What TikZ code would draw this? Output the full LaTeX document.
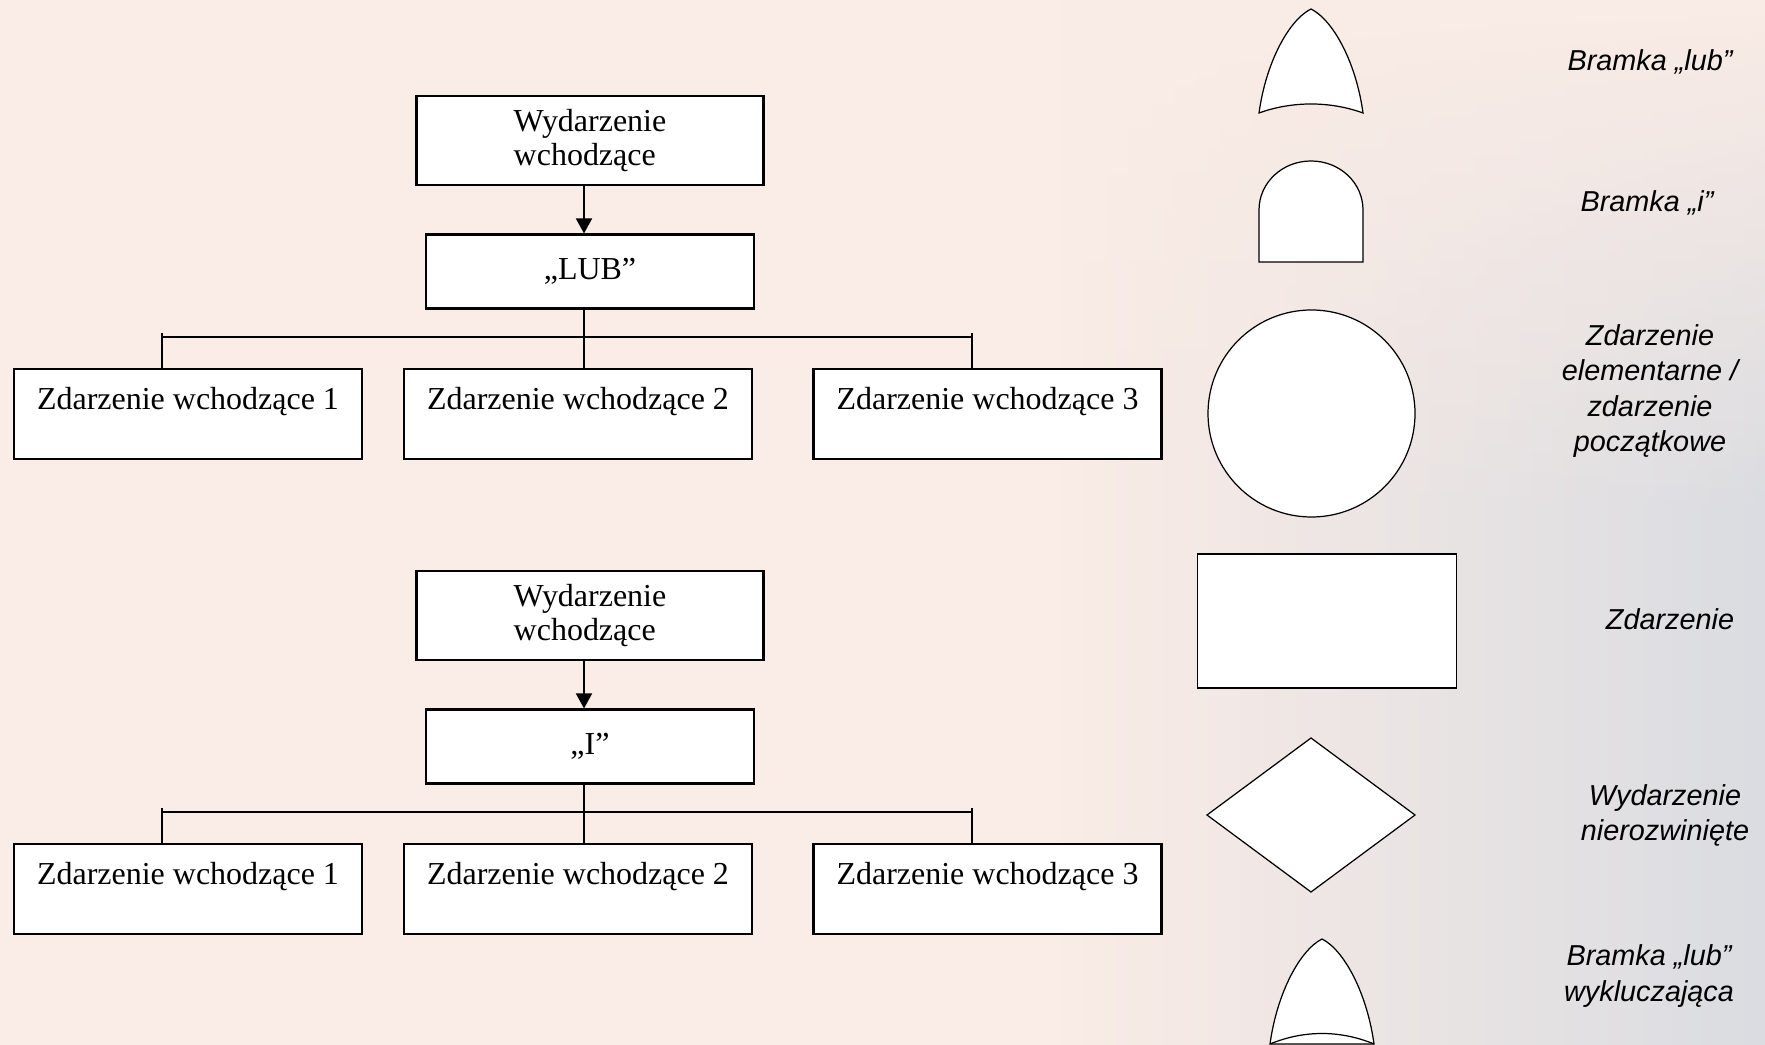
\documentclass[tikz,border=0pt]{standalone}
\usepackage{fontspec}
\setmainfont{Liberation Serif}
\newfontfamily\legendfont{Liberation Sans}
\usetikzlibrary{arrows.meta,fadings}
\definecolor{bgpink}{RGB}{250,236,230}
\definecolor{bggray}{RGB}{218,220,225}

\begin{document}
\begin{tikzpicture}[x=0.1mm,y=-0.1mm]

    \tikzset{boxfont/.style={font=\fontsize{9.1}{9.7}\selectfont},
      topbox/.style={draw,fill=white,line width=0.6pt,boxfont,align=left,minimum width=34.7mm,minimum height=8.9mm,inner sep=0pt},
      gatebox/.style={draw,fill=white,line width=0.6pt,boxfont,minimum width=32.8mm,minimum height=7.4mm,inner sep=0pt},
      leafbox/.style={draw,fill=white,line width=0.6pt,boxfont,minimum width=34.8mm,text height=4.05mm,text depth=4.95mm,inner sep=0pt,anchor=base},
      legend/.style={font=\legendfont\itshape\fontsize{8.2}{10}\selectfont,align=center},
      symbol/.style={draw,fill=white,line width=0.35pt}}

    \useasboundingbox (0,0) rectangle (1765,1045);
    \fill[bgpink] (0,0) rectangle (1765,1045);
    \shade[left color=bgpink,right color=bggray] (1050,0) rectangle (1765,1045);
    \fill[bgpink,path fading=south] (1050,0) rectangle (1765,520);

    % gate "LUB"
    \node[topbox] (w1) at (590,140.3) {Wydarzenie\\wchodzące};
    \node[gatebox] (g1) at (590,271.5) {,,LUB”};
    \node[leafbox] (z11) at (188,409.5) {Zdarzenie wchodzące 1};
    \node[leafbox] (z12) at (578,409.5) {Zdarzenie wchodzące 2};
    \node[leafbox] (z13) at (987.5,409.5) {Zdarzenie wchodzące 3};
    \coordinate (a1) at (162,337);
    \coordinate (b1) at (584,337);
    \coordinate (c1) at (972,337);

    % gate "I"
    \node[topbox] (w2) at (590,615.3) {Wydarzenie\\wchodzące};
    \node[gatebox] (g2) at (590,746.5) {,,I”};
    \node[leafbox] (z21) at (188,884.5) {Zdarzenie wchodzące 1};
    \node[leafbox] (z22) at (578,884.5) {Zdarzenie wchodzące 2};
    \node[leafbox] (z23) at (987.5,884.5) {Zdarzenie wchodzące 3};
    \coordinate (a2) at (162,812);
    \coordinate (b2) at (584,812);
    \coordinate (c2) at (972,812);

    \begin{scope}[every path/.style={line width=0.45pt}]
        \draw[-{Triangle[length=1.5mm,width=1.6mm]},line width=0.5pt] (b1 |- w1.south) -- (b1 |- g1.north);
        \draw (b1 |- g1.south) -- (b1 |- z12.north);
        \draw (a1) -- (c1);
        \draw ([yshift=0.4mm]a1) -- (a1 |- z11.north);
        \draw ([yshift=0.4mm]c1) -- (c1 |- z13.north);

        \draw[-{Triangle[length=1.5mm,width=1.6mm]},line width=0.5pt] (b2 |- w2.south) -- (b2 |- g2.north);
        \draw (b2 |- g2.south) -- (b2 |- z22.north);
        \draw (a2) -- (c2);
        \draw ([yshift=0.4mm]a2) -- (a2 |- z21.north);
        \draw ([yshift=0.4mm]c2) -- (c2 |- z23.north);
    \end{scope}

    % legend
    \draw[symbol] (1259,113) .. controls (1266,62) and (1289,20) .. (1311,9)
        .. controls (1333,20) and (1356,62) .. (1363,113)
        .. controls (1330,101) and (1292,101) .. cycle;
    \draw[symbol] (1259,262) -- (1259,210) .. controls (1259,183) and (1282,161) .. (1311,161)
        .. controls (1340,161) and (1363,183) .. (1363,210) -- (1363,262) -- cycle;
    \draw[symbol] (1311.5,413.5) circle[radius=10.35mm];
    \draw[symbol] (1197.5,554) rectangle (1456.5,688);
    \draw[symbol] (1207,815) -- (1311,738) -- (1415,815) -- (1311,892) -- cycle;
    \draw[symbol] (1270,1044) .. controls (1277,993) and (1300,950) .. (1322,939)
        .. controls (1344,950) and (1367,993) .. (1374,1044) -- cycle;
    \draw[line width=0.35pt] (1270,1044) .. controls (1304,1030) and (1340,1030) .. (1374,1044);

    \node[legend] (l1) at (1650,62) {Bramka „lub”};
    \node[legend] (l2) at (1647,203) {Bramka „i”};
    \node[legend] (l3) at (1650,391) {Zdarzenie\\elementarne /\\zdarzenie\\początkowe};
    \node[legend] (l4) at (1670,619) {Zdarzenie};
    \node[legend] (l5) at (1665,815) {Wydarzenie\\nierozwinięte};
    \node[legend] (l6) at (1649,976) {Bramka „lub”\\wykluczająca};
\end{tikzpicture}
\end{document}
